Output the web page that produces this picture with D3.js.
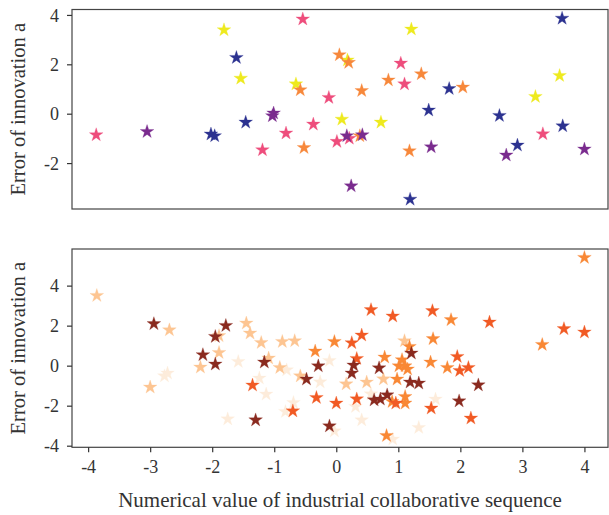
<!DOCTYPE html>
<html>
<head>
<meta charset="utf-8">
<script src="https://cdn.jsdelivr.net/npm/d3@7"></script>
<style>
  html, body { margin: 0; padding: 0; background: #fff; }
  svg { display: block; }
  .tick text { font-family: "Liberation Serif", "Times New Roman", serif; fill: #333; }
</style>
</head>
<body>
<svg id="chart" width="609" height="515"></svg>
<script>
// Tick values
const xTicks = [-4, -3, -2, -1, 0, 1, 2, 3, 4];
const topYTicks = [-2, 0, 2, 4];
const bottomYTicks = [-4, -2, 0, 2, 4];

const xTitle = "Numerical value of industrial collaborative sequence";
const yTitle = "Error of innovation a";

// Upper panel: five groups (x, error)
const upperYellow = [[-1.81, 3.39], [-1.54, 1.43], [-0.65, 1.20], [0.18, 2.17], [1.21, 3.42],
  [0.09, -0.23], [0.72, -0.35], [3.60, 1.54], [3.21, 0.69]];
const upperOrange = [[-0.58, 0.96], [-0.52, -1.38], [0.05, 2.38], [0.20, 2.07], [1.37, 1.61],
  [0.84, 1.36], [2.04, 1.07], [0.41, 0.93], [0.38, -0.90], [1.18, -1.51]];
const upperPink = [[-3.87, -0.86], [-1.19, -1.47], [-0.81, -0.79], [-0.54, 3.83], [-0.37, -0.43],
  [-0.12, 0.65], [0.01, -1.13], [0.21, -1.00], [1.04, 2.04], [1.10, 1.20], [3.33, -0.82]];
const upperPurple = [[-3.05, -0.73], [-1.01, 0.02], [-1.03, -0.09], [0.17, -0.90], [0.42, -0.86],
  [1.53, -1.35], [0.24, -2.93], [2.74, -1.68], [4.00, -1.44]];
const upperBlue = [[-2.02, -0.83], [-1.96, -0.90], [-1.61, 2.27], [-1.46, -0.35], [1.82, 1.01],
  [1.49, 0.14], [1.19, -3.47], [3.64, 3.86], [2.63, -0.08], [3.65, -0.50], [2.92, -1.28]];

// Lower panel: five groups (x, error)
const lowerPale = [[-2.77, -0.52], [-2.72, -0.38], [-1.58, 0.20], [-1.24, -0.63], [-1.13, -1.43],
  [-1.75, -2.67], [-0.80, -0.22], [-0.26, -0.82], [-0.69, -1.85], [-0.82, -2.30], [-0.11, 0.25],
  [0.31, -2.05], [0.41, -2.72], [-0.03, -3.27], [0.56, -1.42], [1.60, -1.68], [1.33, -3.10],
  [0.91, -3.68]];
const lowerPeach = [[-3.86, 3.50], [-2.69, 1.78], [-3.00, -1.08], [-2.19, -0.08], [-1.89, 0.65],
  [-1.89, 1.49], [-1.45, 2.12], [-1.39, 1.62], [-1.21, 1.15], [-1.09, 0.37], [-0.87, 1.20],
  [-0.67, 1.24], [-0.91, -0.10], [-0.58, -0.52], [0.16, -0.92], [0.49, -0.83], [0.76, -0.67],
  [1.10, 1.24]];
const lowerOrange = [[4.00, 5.40], [3.32, 1.05], [1.85, 2.29], [1.56, 1.34], [-0.03, 1.20],
  [-0.34, 0.72], [0.78, 0.42], [0.98, -0.68], [1.18, 0.95], [1.06, 0.29], [1.01, -0.02],
  [1.11, -0.02], [1.15, -0.18], [1.52, 0.17], [1.79, -0.10], [0.90, -1.80], [1.11, -1.55],
  [1.11, -1.88], [0.81, -3.50]];
const lowerRed = [[3.67, 1.84], [4.00, 1.67], [2.47, 2.17], [1.55, 2.74], [0.91, 2.47],
  [0.56, 2.79], [0.41, 1.52], [0.25, 1.14], [0.33, 0.35], [1.95, 0.45], [1.99, -0.25],
  [2.13, -0.10], [1.53, -2.13], [2.17, -2.63], [0.00, -1.88], [0.33, -1.67], [-1.35, -0.98],
  [-0.70, -2.27], [-0.32, -1.60], [0.96, -1.88]];
const lowerDark = [[-2.94, 2.09], [-2.15, 0.54], [-1.95, 0.07], [-1.95, 1.45], [-1.78, 2.00],
  [-1.16, 0.17], [-1.30, -2.72], [-0.48, -0.68], [-0.29, -0.02], [-0.11, -3.02], [0.28, 0.02],
  [0.25, -0.38], [0.69, -0.12], [0.61, -1.72], [0.71, -1.68], [0.82, -1.47], [1.21, 0.62],
  [1.19, -0.83], [1.33, -0.88], [2.29, -0.97], [1.98, -1.77]];

// Group colours, in drawing order
const upperColors = ["#eeea1e", "#f7883b", "#ee4d7c", "#7a2b8e", "#2c3290"];
const lowerColors = ["#fdecdb", "#fdc592", "#f98835", "#f15a24", "#8a2a1f"];

const upperGroups = [upperYellow, upperOrange, upperPink, upperPurple, upperBlue];
const lowerGroups = [lowerPale, lowerPeach, lowerOrange, lowerRed, lowerDark];

const svg = d3.select("#chart");
const serif = '"Liberation Serif", "Times New Roman", serif';

const left = 72, right = 608;
const x = d3.scaleLinear().domain([-4.26, 4.38]).range([left, right]);

const panels = [
  { top: 9.5, bottom: 209, domain: [-3.86, 4.22], ticks: topYTicks,
    groups: upperGroups, colors: upperColors, xAxis: false },
  { top: 249, bottom: 447.3, domain: [-4.08, 5.83], ticks: bottomYTicks,
    groups: lowerGroups, colors: lowerColors, xAxis: true }
];

const star = d3.symbol().type(d3.symbolStar).size(58);
const plain = d => String(d);   // hyphen-minus labels

panels.forEach(p => {
  const y = d3.scaleLinear().domain(p.domain).range([p.bottom, p.top]);
  const g = svg.append("g");

  // points
  p.groups.forEach((pts, i) => {
    g.append("g").selectAll("path").data(pts).join("path")
      .attr("d", star)
      .attr("transform", d => `translate(${x(d[0])},${y(d[1])})`)
      .attr("fill", p.colors[i])
      .attr("stroke", p.colors[i])
      .attr("stroke-opacity", 0.35)
      .attr("stroke-width", 0.8);
  });

  // frame
  g.append("rect")
    .attr("x", left).attr("y", p.top)
    .attr("width", right - left).attr("height", p.bottom - p.top)
    .attr("fill", "none").attr("stroke", "#444").attr("stroke-width", 1.2);

  // y axis
  const ya = g.append("g").attr("transform", `translate(${left},0)`)
    .call(d3.axisLeft(y).tickValues(p.ticks).tickSize(5).tickSizeOuter(0).tickPadding(8)
      .tickFormat(plain));
  ya.select(".domain").remove();
  ya.selectAll(".tick line").attr("stroke", "#333").attr("stroke-width", 1.2);
  ya.selectAll(".tick text").style("font-size", "18px").attr("dy", "0.34em");

  // y title
  g.append("text")
    .attr("transform", `translate(25,${(p.top + p.bottom) / 2}) rotate(-90)`)
    .attr("text-anchor", "middle")
    .style("font-family", serif).style("font-size", "20.5px").attr("fill", "#333")
    .text(yTitle);

  if (p.xAxis) {
    const xa = g.append("g").attr("transform", `translate(0,${p.bottom})`)
      .call(d3.axisBottom(x).tickValues(xTicks).tickSize(5).tickSizeOuter(0).tickPadding(8)
        .tickFormat(plain));
    xa.select(".domain").remove();
    xa.selectAll(".tick line").attr("stroke", "#333").attr("stroke-width", 1.2);
    xa.selectAll(".tick text").style("font-size", "18px");

    g.append("text")
      .attr("x", (left + right) / 2).attr("y", 507)
      .attr("text-anchor", "middle")
      .style("font-family", serif).style("font-size", "21px").attr("fill", "#333")
      .text(xTitle);
  }
});
</script>
</body>
</html>
